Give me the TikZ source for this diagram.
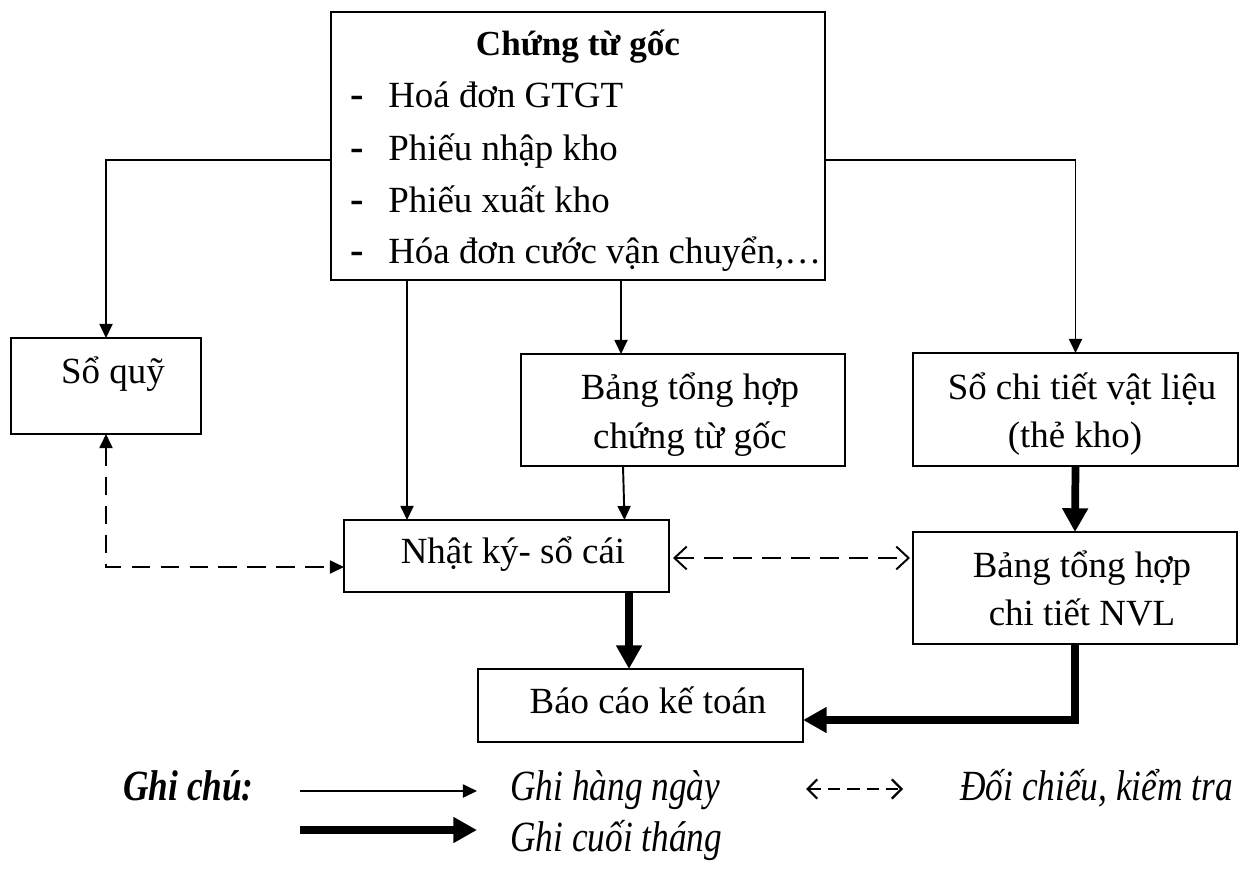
\documentclass[tikz,border=0pt]{standalone}
\usepackage{fontspec}
\setmainfont{Liberation Serif}
\newfontfamily\legendfont[FakeStretch=0.82]{Liberation Serif}
\usetikzlibrary{arrows.meta,fit}
\newlength\pxl
\setlength\pxl{0.02cm}
\begin{document}
\begin{tikzpicture}[x=0.02cm,y=-0.02cm,
  box/.style={draw,line width=1.1pt,inner sep=0pt,outer sep=0pt},
  txt/.style={inner sep=0pt,font=\fontsize{21}{25}\selectfont},
  bullet/.style={inner sep=0pt,font=\bfseries\fontsize{23}{25}\selectfont},
  legtxt/.style={inner sep=0pt,font=\legendfont\itshape\fontsize{24.5}{28}\selectfont},
  daily/.style={line width=1.1pt,-{Triangle[length=8pt,width=7.4pt]}},
  monthly/.style={line width=4.4pt,-{Triangle[length=13.5pt,width=14pt]}},
  check/.style={line width=1.1pt,dash pattern=on 10.5pt off 6pt,
    {Triangle[length=8pt,width=7.4pt]}-{Triangle[length=8pt,width=7.4pt]}},
  compare/.style={line width=1.1pt,dash pattern=on 10.5pt off 6pt,
    {Straight Barb[length=7pt,width=13pt]}-{Straight Barb[length=7pt,width=13pt]}}]
\useasboundingbox (0,0) rectangle (1251,875);

% boxes
\node[box,fit={(331,12) (825,280)}] (goc) {};
\node[box,fit={(11,338) (201,434)}] (soquy) {};
\node[box,fit={(521,354) (845,466)}] (bth) {};
\node[box,fit={(913,353) (1238,466)}] (sct) {};
\node[box,fit={(344,520) (669,592)}] (nk) {};
\node[box,fit={(913,532) (1237,644)}] (nvl) {};
\node[box,fit={(478,669) (803,742)}] (bc) {};

% texts
\node[txt,anchor=base,font=\bfseries\fontsize{20}{25}\selectfont] (gocT) at (578,56) {Chứng từ gốc};
\node[bullet,anchor=base] (d1) at (357,108) {-};
\node[txt,anchor=base west] (l1) at (388,108) {Hoá đơn GTGT};
\node[bullet,anchor=base] (d2) at (357,160) {-};
\node[txt,anchor=base west] (l2) at (388,160) {Phiếu nhập kho};
\node[bullet,anchor=base] (d3) at (357,212) {-};
\node[txt,anchor=base west] (l3) at (388,212) {Phiếu xuất kho};
\node[bullet,anchor=base] (d4) at (357,263) {-};
\node[txt,anchor=base west] (l4) at (388,263) {Hóa đơn cước vận chuyển,…};

\node[txt,anchor=base] (soquyT) at (113,383) {Sổ quỹ};
\node[txt,anchor=base] (bthT1) at (690,399) {Bảng tổng hợp};
\node[txt,anchor=base] (bthT2) at (690,448) {chứng từ gốc};
\node[txt,anchor=base] (sctT1) at (1082,399) {Sổ chi tiết vật liệu};
\node[txt,anchor=base] (sctT2) at (1075,447) {(thẻ kho)};
\node[txt,anchor=base] (nkT) at (513,563) {Nhật ký- sổ cái};
\node[txt,anchor=base] (nvlT1) at (1082,577) {Bảng tổng hợp};
\node[txt,anchor=base] (nvlT2) at (1082,625) {chi tiết NVL};
\node[txt,anchor=base] (bcT) at (648,713) {Báo cáo kế toán};

% daily entries
\draw[daily] ([yshift=-14\pxl]goc.west) -| (soquy.north);
\draw[daily] ([yshift=-14\pxl]goc.east) -| (sct.north);
\draw[daily] ([xshift=-171\pxl]goc.south) -- ([xshift=-171\pxl]goc.south |- nk.north);
\draw[daily] ([xshift=43\pxl]goc.south) -- ([xshift=43\pxl]goc.south |- bth.north);
\draw[daily] ([xshift=-60\pxl]bth.south) -- ([xshift=118\pxl]nk.north);

% end-of-month entries
\draw[monthly] (sct.south) -- (nvl.north);
\draw[monthly] ([xshift=122.5\pxl]nk.south) -- ([xshift=122.5\pxl]nk.south |- bc.north);
\draw[monthly] (nvl.south) |- ([yshift=-14.5\pxl]bc.east);

% cross-checks
\draw[check] (soquy.south) |- ([yshift=-11\pxl]nk.west);
\draw[compare,shorten <=4\pxl,shorten >=3\pxl] ([yshift=-2\pxl]nk.east) -- ([yshift=-2\pxl]nk.east -| nvl.west);

% legend
\node[inner sep=0pt,anchor=base west,font=\legendfont\bfseries\itshape\fontsize{24.5}{28}\selectfont] (legH) at (123,800) {Ghi chú:};
\coordinate (a1) at (300,791);
\coordinate (a2) at (477,791);
\coordinate (b1) at (300,830);
\coordinate (b2) at (477,830);
\coordinate (c1) at (806,789);
\coordinate (c2) at (903,789);
\draw[daily] (a1) -- (a2);
\draw[monthly] (b1) -- (b2);
\draw[line width=1.3pt,dash pattern=on 7pt off 4pt,{Straight Barb[length=5.5pt,width=11pt]}-{Straight Barb[length=5.5pt,width=11pt]}] (c1) -- (c2);
\node[legtxt,anchor=base west] (legD) at (510,800) {Ghi hàng ngày};
\node[legtxt,anchor=base west] (legM) at (510,851) {Ghi cuối tháng};
\node[legtxt,anchor=base west] (legC) at (960,800) {Đối chiếu, kiểm tra};
\end{tikzpicture}
\end{document}
